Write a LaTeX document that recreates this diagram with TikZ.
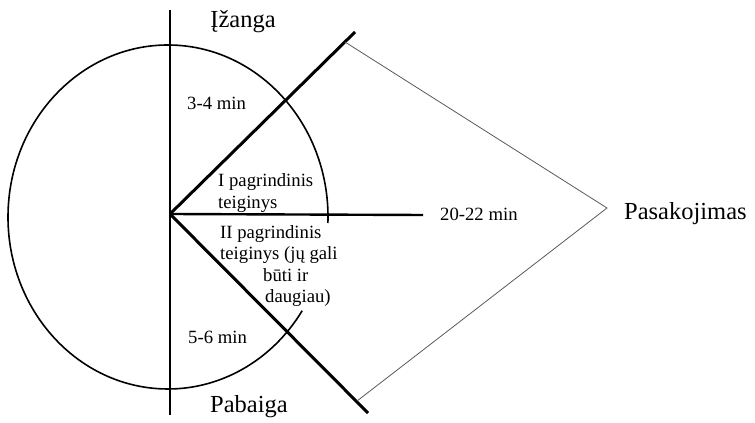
\documentclass[tikz,border=0pt]{standalone}
\usepackage{fontspec}
\setmainfont{Liberation Serif}
\begin{document}
\begin{tikzpicture}[x=1pt,y=1pt,
  thickline/.style={line width=3pt},
  midline/.style={line width=2.4pt},
  axisline/.style={line width=1.4pt},
  thinline/.style={line width=0.8pt, draw=black!65},
  biglabel/.style={inner sep=0pt, font=\fontsize{24.5}{28}\selectfont},
  smalllabel/.style={inner sep=0pt, font=\fontsize{18.7}{21.6}\selectfont, align=left}]
\useasboundingbox (0,0) rectangle (755,423);
% key points
\coordinate (O) at (170,209);
\coordinate (Vtop) at (170,413);
\coordinate (Vbot) at (170,8);
\coordinate (U) at (355,391);
\coordinate (L) at (368,10);
\coordinate (H) at (423,208);
\coordinate (A1) at (345,381);
\coordinate (A2) at (357,22);
\coordinate (P) at (607,215);
\coordinate (E) at (168,206);
% vertical axis
\draw[axisline] (Vtop) -- (Vbot);
% ellipse arc with gap on lower right
\draw[line width=1.6pt] ([shift={(-2:160pt and 172pt)}]E) arc[start angle=-2, end angle=327, x radius=160pt, y radius=172pt];
% thick rays
\draw[thickline] (O) -- (U);
\draw[thickline] (O) -- (L);
\draw[midline] (O) -- (H);
% thin bracket lines
\draw[thinline] (A1) -- (P) -- (A2);
% labels
\node[biglabel] (izanga) at (243,401) {Įžanga};
\node[biglabel] (pabaiga) at (249,16) {Pabaiga};
\node[biglabel, anchor=west] (pasak) at (624,209) {Pasakojimas};
\node[smalllabel, anchor=west] (t2022) at (440,209) {20-22 min};
\node[smalllabel, anchor=west] (t34) at (187,320) {3-4 min};
\node[smalllabel, anchor=west] (t56) at (188,86) {5-6 min};
\node[smalllabel, anchor=west] (first) at (218,230) {I pagrindinis\\teiginys};
\node[smalllabel, anchor=west] (second) at (220,157) {II pagrindinis\\teiginys (jų gali\\\hspace*{43pt}būti ir\\\hspace*{45pt}daugiau)};
\end{tikzpicture}
\end{document}
